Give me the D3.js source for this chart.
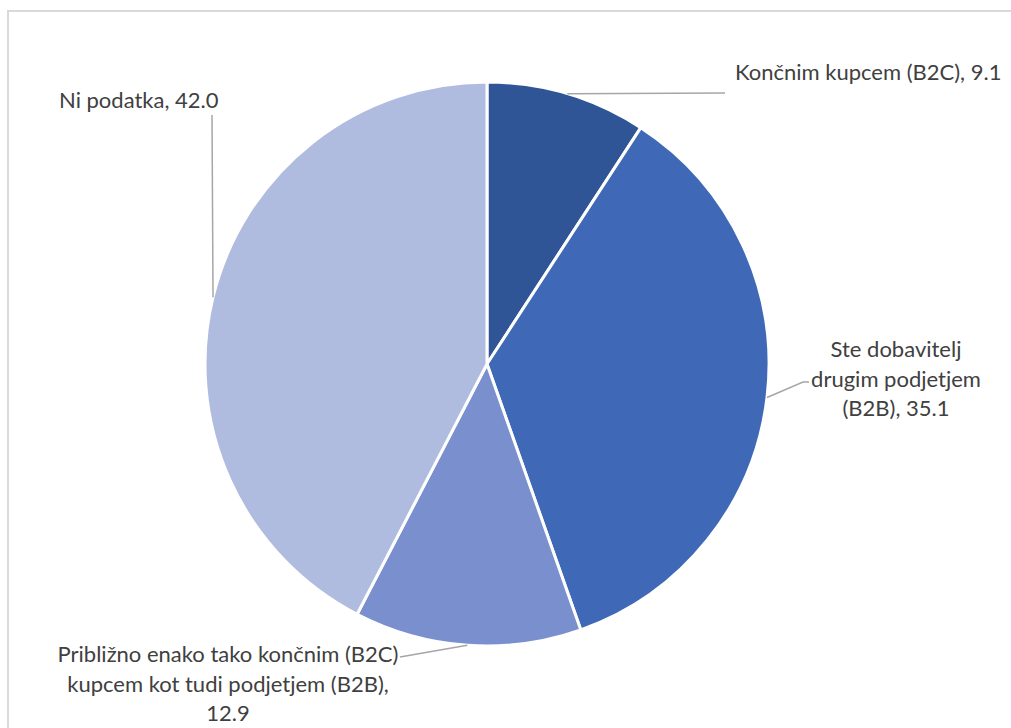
<!DOCTYPE html>
<html>
<head>
<meta charset="utf-8">
<script src="https://cdn.jsdelivr.net/npm/d3@7"></script>
<style>
  html, body { margin: 0; padding: 0; background: #fff; overflow: hidden; }
  svg { display: block; overflow: hidden; }
  text { font-family: Lato, "Open Sans", sans-serif; fill: #404040; }
</style>
</head>
<body>
<svg id="chart" width="1011" height="728"></svg>
<script>
// Slice data (share of companies, %)
const categories = [
  "Končnim kupcem (B2C)",
  "Ste dobavitelj drugim podjetjem (B2B)",
  "Približno enako tako končnim (B2C) kupcem kot tudi podjetjem (B2B)",
  "Ni podatka"
];
const values = [9.1, 35.1, 12.9, 42.0];
const colors = ["#2F5597", "#3F69B7", "#7A8FCE", "#B0BCDF"];

// Label text lines for each slice
const labelLines = [
  ["Končnim kupcem (B2C), 9.1"],
  ["Ste dobavitelj", "drugim podjetjem", "(B2B), 35.1"],
  ["Približno enako tako končnim (B2C)", "kupcem kot tudi podjetjem (B2B),", "12.9"],
  ["Ni podatka, 42.0"]
];

const svg = d3.select("#chart");
const cx = 487, cy = 364, r = 282;

// outer frame (open to the right and bottom)
svg.append("path")
  .attr("d", "M8,740 L8,11 L1011,11")
  .attr("fill", "none").attr("stroke", "#d9d9d9").attr("stroke-width", 2);

const pie = d3.pie().sort(null).value(d => d.value);
const arcs = pie(values.map((v, i) => ({ value: v, name: categories[i], i })));
const arc = d3.arc().innerRadius(0).outerRadius(r);

const g = svg.append("g").attr("transform", `translate(${cx},${cy})`);
g.selectAll("path.slice")
  .data(arcs)
  .join("path")
  .attr("class", "slice")
  .attr("d", arc)
  .attr("fill", d => colors[d.data.i])
  .attr("stroke", "#fff")
  .attr("stroke-width", 3)
  .attr("stroke-linejoin", "round");

// label placement (absolute page coordinates)
const labelLayout = [
  { x: 735, y: 80, anchor: "start", lead: [[725, 93]] },
  { x: 896, y: 357, anchor: "middle", lead: [[803, 382], [809, 382]] },
  { x: 228, y: 662, anchor: "middle", lead: [[400, 657]] },
  { x: 59, y: 108, anchor: "start", lead: [[212, 115]] }
];
const lineH = 29.5;

// leader lines from the slice edge at its mid-angle
arcs.forEach(d => {
  const a = (d.startAngle + d.endAngle) / 2;
  const start = [cx + r * Math.sin(a), cy - r * Math.cos(a)];
  const pts = [start, ...labelLayout[d.data.i].lead];
  svg.append("path")
    .attr("d", d3.line()(pts))
    .attr("fill", "none")
    .attr("stroke", "#a6a6a6")
    .attr("stroke-width", 1.5);
});

// labels
arcs.forEach(d => {
  const L = labelLayout[d.data.i];
  const t = svg.append("text")
    .attr("x", L.x).attr("y", L.y)
    .attr("text-anchor", L.anchor)
    .attr("font-size", 22);
  labelLines[d.data.i].forEach((s, k) => {
    t.append("tspan").attr("x", L.x).attr("y", L.y + k * lineH).text(s);
  });
});
</script>
</body>
</html>
